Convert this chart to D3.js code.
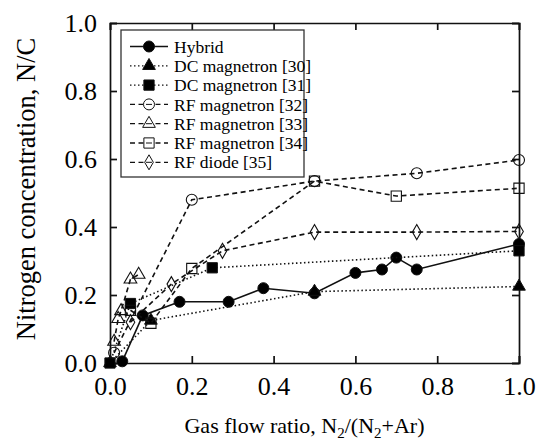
<!DOCTYPE html>
<html>
<head>
<meta charset="utf-8">
<script src="https://cdn.jsdelivr.net/npm/d3@7"></script>
<style>
  body { margin: 0; background: #fff; }
  svg { display: block; }
  svg text { font-family: "Liberation Serif", "Times New Roman", serif; fill: #000; }
</style>
</head>
<body>
<script>
// values
const hybridX = [0.03, 0.08, 0.17, 0.29, 0.375, 0.5, 0.6, 0.665, 0.7, 0.75, 1.0];
const hybridY = [0.005, 0.14, 0.18, 0.18, 0.22, 0.205, 0.265, 0.275, 0.31, 0.275, 0.35];
const dc30X = [0.0, 0.1, 0.5, 1.0];
const dc30Y = [0.0, 0.125, 0.21, 0.225];
const dc31X = [0.0, 0.05, 0.25, 1.0];
const dc31Y = [0.0, 0.175, 0.28, 0.33];
const rf32X = [0.01, 0.2, 0.5, 0.75, 1.0];
const rf32Y = [0.03, 0.48, 0.535, 0.558, 0.597];
const rf33X = [0.01, 0.02, 0.027, 0.05, 0.07];
const rf33Y = [0.063, 0.13, 0.153, 0.246, 0.26];
const rf34X = [0.05, 0.1, 0.2, 0.5, 0.7, 1.0];
const rf34Y = [0.155, 0.117, 0.278, 0.535, 0.491, 0.514];
const rf35X = [0.05, 0.15, 0.275, 0.5, 0.75, 1.0];
const rf35Y = [0.12, 0.232, 0.33, 0.385, 0.385, 0.387];

const labels = ["Hybrid", "DC magnetron [30]", "DC magnetron [31]", "RF magnetron [32]",
  "RF magnetron [33]", "RF magnetron [34]", "RF diode [35]"];
const ticks = [0, 0.2, 0.4, 0.6, 0.8, 1.0];

const series = [
  {x: hybridX, y: hybridY, dash: null, shape: "circle", filled: true},
  {x: dc30X, y: dc30Y, dash: "1.5,2.5", shape: "triangle", filled: true},
  {x: dc31X, y: dc31Y, dash: "1.5,2.5", shape: "square", filled: true},
  {x: rf32X, y: rf32Y, dash: "5,3.5", shape: "circle", filled: false},
  {x: rf33X, y: rf33Y, dash: "5,3.5", shape: "triangle", filled: false},
  {x: rf34X, y: rf34Y, dash: "5,3.5", shape: "square", filled: false},
  {x: rf35X, y: rf35Y, dash: "5,3.5", shape: "diamond", filled: false}
].map((s, i) => ({...s, name: labels[i]}));

const width = 543, height = 441;
const margin = {top: 23, right: 24, bottom: 78, left: 110};

const x = d3.scaleLinear([0, 1], [margin.left, width - margin.right]);
const y = d3.scaleLinear([0, 1], [height - margin.bottom, margin.top]);

const symbols = {
  circle: d3.symbol(d3.symbolCircle, 95),
  square: d3.symbol(d3.symbolSquare, 105),
  triangle: d3.symbol(d3.symbolTriangle, 70),
  diamond: d3.symbol(d3.symbolDiamond, 65)
};

const svg = d3.select("body").append("svg")
  .attr("width", width)
  .attr("height", height);

// axes, ticks point inwards on all four sides
svg.append("g")
  .attr("transform", `translate(0,${y(0)})`)
  .call(d3.axisBottom(x).tickValues(ticks).tickFormat(d3.format(".1f")).tickSize(-7).tickPadding(14))
  .call(g => g.selectAll("text").attr("font-size", 26));

svg.append("g")
  .attr("transform", `translate(${x(0)},0)`)
  .call(d3.axisLeft(y).tickValues(ticks).tickFormat(d3.format(".1f")).tickSize(-7).tickPadding(13))
  .call(g => g.selectAll("text").attr("font-size", 26));

svg.append("g")
  .attr("transform", `translate(0,${y(1)})`)
  .call(d3.axisTop(x).tickValues(ticks).tickFormat("").tickSize(-7));

svg.append("g")
  .attr("transform", `translate(${x(1)},0)`)
  .call(d3.axisRight(y).tickValues(ticks).tickFormat("").tickSize(-7));

svg.selectAll(".domain, .tick line").attr("stroke", "#111").attr("stroke-width", 1.7);

// series
const line = d3.line().x(d => x(d[0])).y(d => y(d[1]));

series.forEach(s => {
  const pts = s.x.map((v, i) => [v, s.y[i]]);
  svg.append("path")
    .datum(pts)
    .attr("fill", "none")
    .attr("stroke", "#111")
    .attr("stroke-width", 1.6)
    .attr("stroke-dasharray", s.dash)
    .attr("d", line);
  svg.append("g").selectAll("path")
    .data(pts)
    .join("path")
    .attr("transform", d => `translate(${x(d[0])},${y(d[1])})`)
    .attr("d", symbols[s.shape])
    .attr("fill", s.filled ? "#000" : "none")
    .attr("stroke", "#111")
    .attr("stroke-width", s.filled ? 1 : 1.1);
});

// legend
const legend = svg.append("g").attr("transform", "translate(121,30)");
legend.append("rect")
  .attr("width", 183)
  .attr("height", 147)
  .attr("fill", "#fff")
  .attr("stroke", "#333")
  .attr("stroke-width", 1.3);

const item = legend.selectAll("g.item")
  .data(series)
  .join("g")
  .attr("class", "item")
  .attr("transform", (d, i) => `translate(0,${16.5 + i * 19.3})`);

item.append("line")
  .attr("x1", 9).attr("x2", 47)
  .attr("stroke", "#111")
  .attr("stroke-width", 1.3)
  .attr("stroke-dasharray", d => d.dash);

item.append("path")
  .attr("transform", "translate(28,0)")
  .attr("d", d => symbols[d.shape]())
  .attr("fill", d => d.filled ? "#000" : "#fff")
  .attr("stroke", "#111");

item.append("line")
  .filter(d => !d.filled)
  .attr("x1", 25).attr("x2", 31)
  .attr("stroke", "#111")
  .attr("stroke-width", 1);

item.append("text")
  .attr("x", 53)
  .attr("dy", "0.35em")
  .attr("font-size", 17.5)
  .text(d => d.name);

// axis titles
svg.append("text")
  .attr("transform", `translate(35,${(y(0) + y(1)) / 2 - 4}) rotate(-90)`)
  .attr("text-anchor", "middle")
  .attr("font-size", 26.5)
  .text("Nitrogen concentration, N/C");

const xt = svg.append("text")
  .attr("x", (x(0) + x(1)) / 2 - 10)
  .attr("y", 433)
  .attr("text-anchor", "middle")
  .attr("font-size", 22)
xt.append("tspan").text("Gas flow ratio, N");
xt.append("tspan").attr("font-size", 15).attr("dy", 5).text("2");
xt.append("tspan").attr("dy", -5).text("/(N");
xt.append("tspan").attr("font-size", 15).attr("dy", 5).text("2");
xt.append("tspan").attr("dy", -5).text("+Ar)");
</script>
</body>
</html>
